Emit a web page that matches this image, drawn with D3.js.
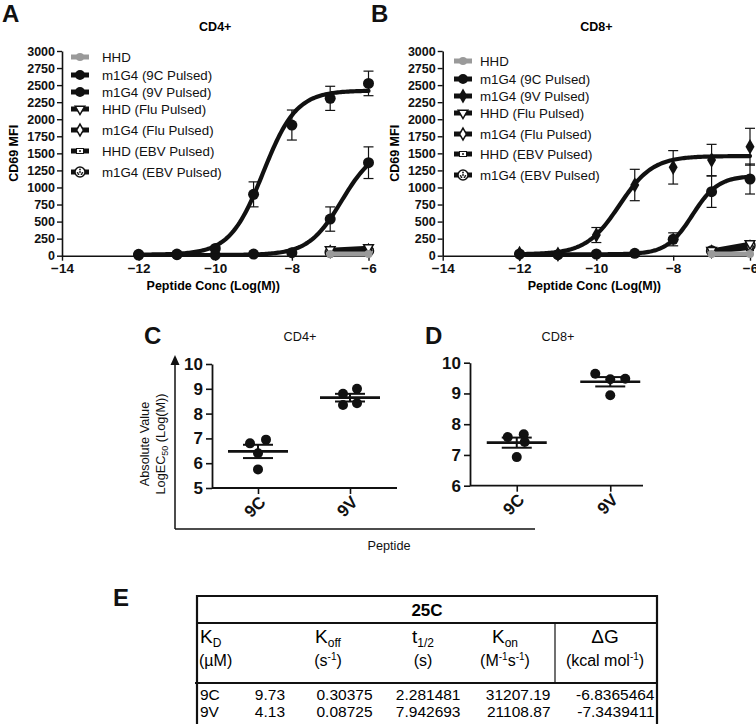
<!DOCTYPE html>
<html><head><meta charset="utf-8">
<script src="https://cdn.jsdelivr.net/npm/d3@7"></script>
<style>
body{margin:0;background:#fff;}
svg{display:block;font-family:"Liberation Sans",Arial,Helvetica,sans-serif;}
</style>
</head><body>
<svg id="chart" width="756" height="724"></svg>
<script>
// ---------------- DATA ----------------
const doses = [-12, -11, -10, -9, -8, -7, -6];
const controlDoses = [-7, -6];
const xTickValues = [-14, -12, -10, -8, -6];
const mfiTicks = [0, 250, 500, 750, 1000, 1250, 1500, 1750, 2000, 2250, 2500, 2750, 3000];
const legendLabels = ["HHD", "m1G4 (9C Pulsed)", "m1G4 (9V Pulsed)", "HHD (Flu Pulsed)",
                      "m1G4 (Flu Pulsed)", "HHD (EBV Pulsed)", "m1G4 (EBV Pulsed)"];

// Panel A (CD4+)
const cd4_9C_mean = [10, 15, 10, 24, 44, 537, 1363];
const cd4_9C_sem  = [5, 5, 5, 5, 15, 178, 232];
const cd4_9V_mean = [20, 24, 107, 899, 1915, 2306, 2525];
const cd4_9V_sem  = [10, 10, 20, 183, 220, 177, 180];
const cd4_9C_fit  = [10, 1600, -6.7, 1.0];   // bottom, top, logEC50, hill
const cd4_9V_fit  = [15, 2420, -8.75, 1.0];
const cd4_HHD      = [25, 25];
const cd4_HHD_Flu  = [90, 120];
const cd4_m1G4_Flu = [60, 80];
const cd4_HHD_EBV  = [45, 60];
const cd4_m1G4_EBV = [50, 70];

// Panel B (CD8+)
const cd8_9C_mean = [25, 15, 25, 35, 240, 938, 1124];
const cd8_9C_sem  = [5, 5, 5, 5, 95, 230, 220];
const cd8_9V_mean = [30, 20, 303, 1036, 1295, 1402, 1597];
const cd8_9V_sem  = [10, 10, 110, 230, 245, 230, 270];
const cd8_9C_fit  = [20, 1170, -7.5, 1.3];
const cd8_9V_fit  = [20, 1460, -9.4, 1.0];
const cd8_HHD      = [25, 25];
const cd8_HHD_Flu  = [80, 180];
const cd8_m1G4_Flu = [60, 130];
const cd8_HHD_EBV  = [50, 110];
const cd8_m1G4_EBV = [70, 150];

// Panels C / D : |LogEC50|
const peptides = ["9C", "9V"];
const ec50_cd4_9C = [6.8, 6.95, 6.4, 5.75];
const ec50_cd4_9V = [8.8, 9.0, 8.35, 8.42];
const ec50_cd8_9C = [7.58, 7.67, 7.42, 6.93];
const ec50_cd8_9V = [9.64, 9.46, 9.48, 8.94];
const cd4Ticks = [5, 6, 7, 8, 9, 10];
const cd8Ticks = [6, 7, 8, 9, 10];

// Panel E table
const rowNames = ["9C", "9V"];
const KD   = ["9.73", "4.13"];
const Koff = ["0.30375", "0.08725"];
const tHalf = ["2.281481", "7.942693"];
const Kon  = ["31207.19", "21108.87"];
const dG   = ["-6.8365464", "-7.3439411"];

// ---------------- DRAW ----------------
const svg = d3.select("#chart");
const FONT = '"Liberation Sans",Arial,Helvetica,sans-serif';

function fourPL(p, x) {
  const [b, t, c, h] = p;
  return b + (t - b) / (1 + Math.pow(10, (c - x) * h));
}

function panelLetter(x, y, txt) {
  svg.append("text").attr("x", x).attr("y", y).text(txt)
    .attr("font-size", 24).attr("font-weight", "bold").attr("fill", "#111");
}

function drawMarker(g, type, cx, cy, s) {
  s = s || 1;
  if (type === "circle") {
    g.append("circle").attr("cx", cx).attr("cy", cy).attr("r", 5.5 * s).attr("fill", "#111");
  } else if (type === "gray") {
    g.append("circle").attr("cx", cx).attr("cy", cy).attr("r", 4.5 * s).attr("fill", "#9a9a9a");
  } else if (type === "diamond") {
    g.append("path").attr("transform", `translate(${cx},${cy})`)
      .attr("d", d3.symbol(d3.symbolDiamond, 70 * s)()).attr("fill", "#111");
  } else if (type === "triDown") {
    g.append("path").attr("transform", `translate(${cx},${cy}) rotate(180)`)
      .attr("d", d3.symbol(d3.symbolTriangle, 45 * s)()).attr("fill", "#fff")
      .attr("stroke", "#111").attr("stroke-width", 1.5);
  } else if (type === "openDiamond") {
    g.append("path").attr("transform", `translate(${cx},${cy})`)
      .attr("d", d3.symbol(d3.symbolDiamond, 45 * s)()).attr("fill", "#fff")
      .attr("stroke", "#111").attr("stroke-width", 1.5);
  } else if (type === "square") {
    g.append("rect").attr("x", cx - 3.5).attr("y", cy - 2.5).attr("width", 7).attr("height", 5)
      .attr("fill", "#fff").attr("stroke", "#111").attr("stroke-width", 1);
    g.append("rect").attr("x", cx - 1).attr("y", cy - 1).attr("width", 2).attr("height", 2).attr("fill", "#555");
  } else if (type === "ebv") {
    g.append("circle").attr("cx", cx).attr("cy", cy).attr("r", 5).attr("fill", "#fff")
      .attr("stroke", "#111").attr("stroke-width", 1.5);
    [[0, -2.5], [2.4, 0.8], [-2.4, 0.8], [1.5, 2.2], [-1.5, 2.2], [0, 0]].forEach(([dx, dy]) =>
      g.append("circle").attr("cx", cx + dx).attr("cy", cy + dy).attr("r", 0.9).attr("fill", "#111"));
  }
}

function drawDosePanel(cfg) {
  const g = svg.append("g");
  const x = d3.scaleLinear().domain([-14, -6]).range([cfg.x0, cfg.x1]);
  const y = d3.scaleLinear().domain([0, 3000]).range([cfg.yBottom, cfg.yTop]);

  // axes
  const ya = g.append("g").attr("transform", `translate(${cfg.x0},0)`)
    .call(d3.axisLeft(y).tickValues(mfiTicks).tickSize(5).tickPadding(2).tickSizeOuter(0).tickFormat(d3.format("d")));
  ya.selectAll("text").attr("font-size", 12.5).attr("font-weight", "bold").attr("font-family", FONT).attr("fill", "#111");
  const xa = g.append("g").attr("transform", `translate(0,${cfg.yBottom})`)
    .call(d3.axisBottom(x).tickValues(xTickValues).tickSize(5).tickPadding(3).tickSizeOuter(0).tickFormat(d3.format("d")));
  xa.selectAll("text").attr("font-size", 13.5).attr("font-weight", "bold").attr("font-family", FONT).attr("fill", "#111");
  g.selectAll(".domain").attr("stroke", "#111").attr("stroke-width", 1.6);
  g.selectAll(".tick line").attr("stroke", "#111").attr("stroke-width", 1.4);

  // titles
  g.append("text").attr("x", (cfg.x0 + cfg.x1) / 2).attr("y", 31).attr("text-anchor", "middle")
    .attr("font-size", 12.5).attr("font-weight", "bold").text(cfg.title);
  g.append("text").attr("x", (cfg.x0 + cfg.x1) / 2 - 2).attr("y", cfg.yBottom + 34).attr("text-anchor", "middle")
    .attr("font-size", 12.5).attr("font-weight", "bold").text("Peptide Conc (Log(M))");
  g.append("text").attr("transform", `translate(${cfg.yTitleX},${(cfg.yTop + cfg.yBottom) / 2}) rotate(-90)`)
    .attr("text-anchor", "middle").attr("font-size", 12.5).attr("font-weight", "bold").text("CD69 MFI");

  // error bars
  [[cfg.m9C, cfg.s9C], [cfg.m9V, cfg.s9V]].forEach(([m, s]) => {
    doses.forEach((d, i) => {
      const xx = x(d), lo = y(m[i] - s[i]), hi = y(m[i] + s[i]);
      g.append("line").attr("x1", xx).attr("x2", xx).attr("y1", lo).attr("y2", hi).attr("stroke", "#111").attr("stroke-width", 1.2);
      [lo, hi].forEach(v => g.append("line").attr("x1", xx - 5).attr("x2", xx + 5).attr("y1", v).attr("y2", v)
        .attr("stroke", "#111").attr("stroke-width", 1.2));
    });
  });

  // fitted curves
  const xs = d3.range(-12, -5.999, 0.04);
  const line = d3.line().x(d => x(d[0])).y(d => y(d[1]));
  [cfg.f9C, cfg.f9V].forEach(p => {
    g.append("path").attr("d", line(xs.map(v => [v, fourPL(p, v)])))
      .attr("fill", "none").attr("stroke", "#111").attr("stroke-width", 4.2).attr("stroke-linecap", "round");
  });

  // points
  doses.forEach((d, i) => drawMarker(g, "circle", x(d), y(cfg.m9C[i])));
  doses.forEach((d, i) => drawMarker(g, cfg.mark9V, x(d), y(cfg.m9V[i])));

  // controls
  const ctrl = [
    [cfg.cHHDEBV, "square", "#111"],
    [cfg.cm1G4EBV, "ebv", "#111"],
    [cfg.cm1G4Flu, "openDiamond", "#111"],
    [cfg.cHHDFlu, "triDown", "#111"],
    [cfg.cHHD, "gray", "#9a9a9a"]
  ];
  ctrl.forEach(([vals, mk, col]) => {
    g.append("path").attr("d", line(controlDoses.map((d, i) => [d, vals[i]])))
      .attr("stroke", col).attr("stroke-width", mk === "gray" ? 5 : 3.5).attr("fill", "none");
    controlDoses.forEach((d, i) => drawMarker(g, mk, x(d), y(vals[i]), 0.9));
  });

  // legend
  const legMarks = ["gray", "circle", cfg.mark9V, "triDown", "openDiamond", "square", "ebv"];
  legendLabels.forEach((lab, i) => {
    const cy = cfg.legY[i];
    const col = i === 0 ? "#9a9a9a" : "#111";
    g.append("line").attr("x1", cfg.legX - 9).attr("x2", cfg.legX + 9).attr("y1", cy).attr("y2", cy)
      .attr("stroke", col).attr("stroke-width", 5);
    drawMarker(g, legMarks[i], cfg.legX, cy, 0.9);
    g.append("text").attr("x", cfg.legTextX).attr("y", cy + 4.7).attr("font-size", 13.3).attr("fill", "#111").text(lab);
  });
}

drawDosePanel({
  x0: 62, x1: 368.5, yTop: 51, yBottom: 255.7, title: "CD4+", yTitleX: 18,
  m9C: cd4_9C_mean, s9C: cd4_9C_sem, m9V: cd4_9V_mean, s9V: cd4_9V_sem,
  f9C: cd4_9C_fit, f9V: cd4_9V_fit, mark9V: "circle",
  cHHD: cd4_HHD, cHHDFlu: cd4_HHD_Flu, cm1G4Flu: cd4_m1G4_Flu, cHHDEBV: cd4_HHD_EBV, cm1G4EBV: cd4_m1G4_EBV,
  legX: 80, legTextX: 102, legY: [57, 75, 92, 109, 130, 151, 172]
});
drawDosePanel({
  x0: 442.7, x1: 750, yTop: 51, yBottom: 255.7, title: "CD8+", yTitleX: 399,
  m9C: cd8_9C_mean, s9C: cd8_9C_sem, m9V: cd8_9V_mean, s9V: cd8_9V_sem,
  f9C: cd8_9C_fit, f9V: cd8_9V_fit, mark9V: "diamond",
  cHHD: cd8_HHD, cHHDFlu: cd8_HHD_Flu, cm1G4Flu: cd8_m1G4_Flu, cHHDEBV: cd8_HHD_EBV, cm1G4EBV: cd8_m1G4_EBV,
  legX: 463, legTextX: 480, legY: [61, 79, 96, 113, 134, 154, 175]
});
panelLetter(2, 22, "A");
panelLetter(371, 22, "B");

// ---- Panels C & D ----
function drawEC50Panel(cfg) {
  const g = svg.append("g");
  const x = d3.scalePoint().domain(peptides).range([cfg.x0, cfg.x1]).padding(0.5);
  const y = d3.scaleLinear().domain(cfg.domain).range([cfg.yBottom, cfg.yTop]);
  const ya = g.append("g").attr("transform", `translate(${cfg.x0},0)`)
    .call(d3.axisLeft(y).tickValues(cfg.ticks).tickSize(6).tickPadding(3).tickSizeOuter(0).tickFormat(d3.format("d")));
  ya.selectAll("text").attr("font-size", 17).attr("font-weight", "bold").attr("font-family", FONT).attr("fill", "#111");
  const xa = g.append("g").attr("transform", `translate(0,${cfg.yBottom})`)
    .call(d3.axisBottom(x).tickSize(6).tickSizeOuter(0));
  xa.select(".domain").remove();
  xa.selectAll("text").attr("font-size", 17).attr("font-weight", "bold").attr("font-family", FONT).attr("fill", "#111")
    .attr("text-anchor", "end").attr("transform", "translate(4,11) rotate(-45)").attr("dy", "0.35em").attr("y", 0).attr("x", 0);
  g.append("line").attr("x1", cfg.x0).attr("x2", cfg.axisEnd).attr("y1", cfg.yBottom).attr("y2", cfg.yBottom)
    .attr("stroke", "#111").attr("stroke-width", 1.8);
  g.selectAll(".domain").attr("stroke", "#111").attr("stroke-width", 1.8);
  g.selectAll(".tick line").attr("stroke", "#111").attr("stroke-width", 1.6);

  g.append("text").attr("x", cfg.titleX).attr("y", 341).attr("text-anchor", "middle")
    .attr("font-size", 12.7).attr("fill", "#111").text(cfg.title);

  cfg.series.forEach((vals, k) => {
    const cxv = x(peptides[k]);
    const mean = d3.mean(vals), sem = d3.deviation(vals) / Math.sqrt(vals.length);
    vals.forEach((v, i) => g.append("circle").attr("cx", cxv + cfg.jitter[k][i]).attr("cy", y(v)).attr("r", 5).attr("fill", "#111"));
    g.append("line").attr("x1", cxv - 30).attr("x2", cxv + 30).attr("y1", y(mean)).attr("y2", y(mean))
      .attr("stroke", "#111").attr("stroke-width", 2.6);
    g.append("line").attr("x1", cxv).attr("x2", cxv).attr("y1", y(mean - sem)).attr("y2", y(mean + sem))
      .attr("stroke", "#111").attr("stroke-width", 2);
    [mean - sem, mean + sem].forEach(v => g.append("line").attr("x1", cxv - 15).attr("x2", cxv + 15)
      .attr("y1", y(v)).attr("y2", y(v)).attr("stroke", "#111").attr("stroke-width", 2));
  });
}

drawEC50Panel({
  x0: 212, x1: 396, axisEnd: 397, yTop: 364, yBottom: 488, domain: [5, 10], ticks: cd4Ticks,
  title: "CD4+", titleX: 300, series: [ec50_cd4_9C, ec50_cd4_9V],
  jitter: [[-8, 8, 0, 0], [-7, 7, -7, 7]]
});
drawEC50Panel({
  x0: 470, x1: 657, axisEnd: 643, yTop: 362.7, yBottom: 485.7, domain: [6, 10], ticks: cd8Ticks,
  title: "CD8+", titleX: 558, series: [ec50_cd8_9C, ec50_cd8_9V],
  jitter: [[-9, 7, 8, 0], [-15, 0, 15, 0]]
});
panelLetter(144, 344, "C");
panelLetter(425, 344, "D");

// outer arrow axes for C/D
svg.append("line").attr("x1", 175).attr("x2", 175).attr("y1", 529).attr("y2", 362).attr("stroke", "#111").attr("stroke-width", 1.5);
svg.append("path").attr("d", "M175,355 L170.5,365 L179.5,365 Z").attr("fill", "#111");
svg.append("line").attr("x1", 175).attr("x2", 535).attr("y1", 529).attr("y2", 529).attr("stroke", "#111").attr("stroke-width", 1.5);
svg.append("text").attr("x", 389).attr("y", 550).attr("text-anchor", "middle").attr("font-size", 12.7).attr("fill", "#111").text("Peptide");
const yl = svg.append("text").attr("transform", "translate(149,444) rotate(-90)").attr("text-anchor", "middle")
  .attr("font-size", 12.7).attr("fill", "#111");
yl.append("tspan").attr("x", 0).attr("dy", 0).text("Absolute Value");
yl.append("tspan").attr("x", 0).attr("dy", 16).text("LogEC");
yl.append("tspan").attr("font-size", 9).attr("dy", 3).text("50");
yl.append("tspan").attr("dy", -3).text("  (Log(M))");

// ---- Panel E table ----
panelLetter(113, 606, "E");
const T = svg.append("g");
const tl = (x1, y1, x2, y2, w) => T.append("line").attr("x1", x1).attr("y1", y1).attr("x2", x2).attr("y2", y2)
  .attr("stroke", "#111").attr("stroke-width", w);
tl(197, 596, 657, 596, 2.2);
tl(197, 595, 197, 724, 2.2);
tl(657, 595, 657, 724, 2.2);
tl(197, 623, 657, 623, 2.2);
tl(555, 623, 555, 683, 1.2);
tl(195, 683, 657, 683, 2.2);
T.append("text").attr("x", 427).attr("y", 616).attr("text-anchor", "middle").attr("font-size", 17)
  .attr("font-weight", "bold").text("25C");

// parts: [text, shift] where shift = 0 normal, 1 subscript, -1 superscript
function richText(x, y, anchor, size, smallSize, parts) {
  const t = T.append("text").attr("x", x).attr("y", y).attr("text-anchor", anchor).attr("font-size", size);
  let cur = 0;
  parts.forEach(([txt, shift]) => {
    const off = shift === 1 ? 4 : shift === -1 ? -6 : 0;
    const sp = t.append("tspan").attr("dy", off - cur).text(txt);
    if (shift !== 0) sp.attr("font-size", smallSize);
    cur = off;
  });
}
richText(200, 643, "start", 19, 12, [["K", 0], ["D", 1]]);
richText(328, 643, "middle", 19, 12, [["K", 0], ["off", 1]]);
richText(423, 643, "middle", 19, 12, [["t", 0], ["1/2", 1]]);
richText(505, 643, "middle", 19, 12, [["K", 0], ["on", 1]]);
richText(605, 643, "middle", 19, 12, [["ΔG", 0]]);

richText(199, 666, "start", 16, 10, [["(µM)", 0]]);
richText(328, 666, "middle", 16, 10, [["(s", 0], ["-1", -1], [")", 0]]);
richText(423, 666, "middle", 16, 10, [["(s)", 0]]);
richText(505, 666, "middle", 16, 10, [["(M", 0], ["-1", -1], ["s", 0], ["-1", -1], [")", 0]]);
richText(605, 666, "middle", 16, 10, [["(kcal mol", 0], ["-1", -1], [")", 0]]);

const colX = [285, 372.5, 460.5, 550.5, 654.5];
const cols = [KD, Koff, tHalf, Kon, dG];
rowNames.forEach((r, i) => {
  const yy = 700 + i * 17;
  T.append("text").attr("x", 200).attr("y", yy).attr("font-size", 15.5).text(r);
  cols.forEach((c, j) => T.append("text").attr("x", colX[j]).attr("y", yy).attr("text-anchor", "end")
    .attr("font-size", 15.5).text(c[i]));
});
</script>
</body></html>
